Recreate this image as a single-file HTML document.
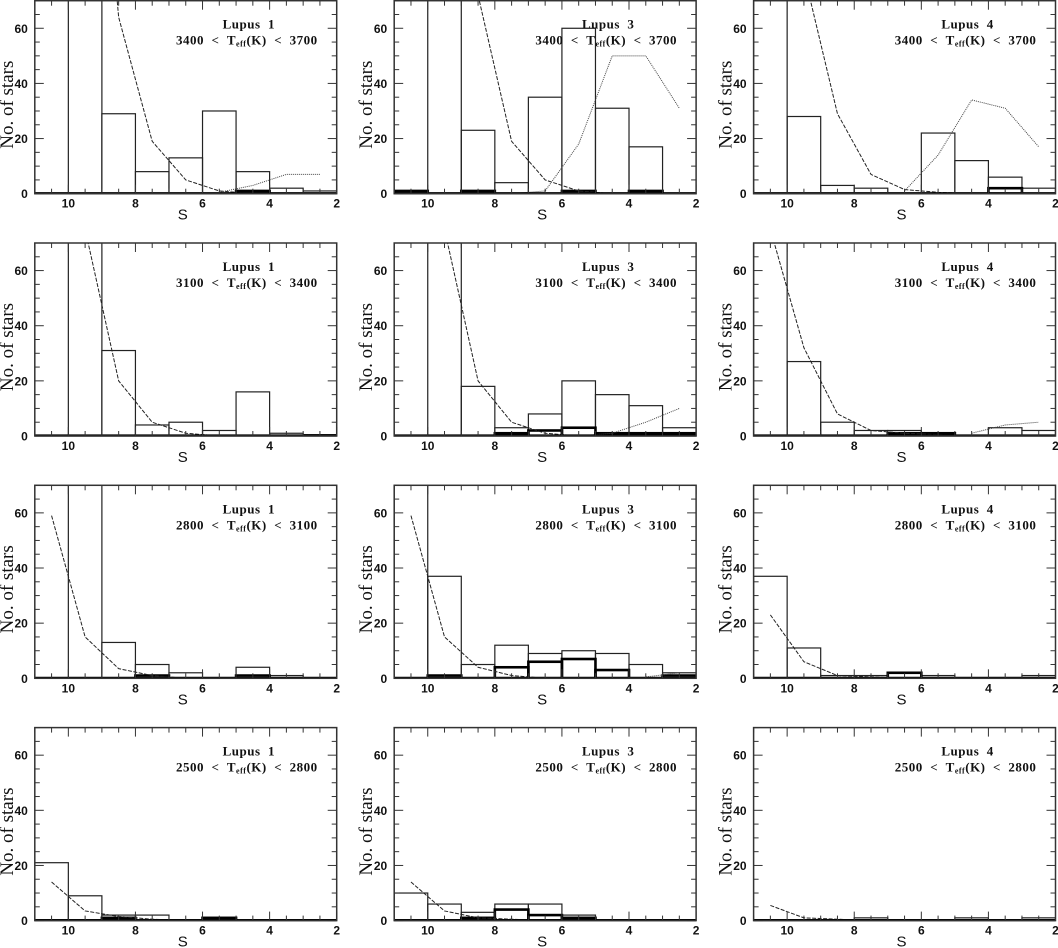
<!DOCTYPE html>
<html><head><meta charset="utf-8"><style>
html,body{margin:0;padding:0;background:#fff;}
svg{display:block;}
text{fill:#111;}
</style></head><body>
<svg id="fig" width="1058" height="948" viewBox="0 0 1058 948" xmlns="http://www.w3.org/2000/svg"></svg>
<script>
// Bins: S from 11..10, 10..9, ..., 3..2 ; line points at bin centres 10.5..2.5
const binEdges = [11,10,9,8,7,6,5,4,3,2];
const centres = [10.5,9.5,8.5,7.5,6.5,5.5,4.5,3.5,2.5];
const regions = ["Lupus 1","Lupus 3","Lupus 4"];
const tempRanges = [["3400","3700"],["3100","3400"],["2800","3100"],["2500","2800"]];
const xTicks = [10,8,6,4,2];
const yTicks = [0,20,40,60];
// thin histograms [row][col]
const thinCounts = [
 [[0,100,29,8,13,30,8,2,1],[1,100,23,4,35,60,31,17,0],[100,28,3,2,0,22,12,6,2]],
 [[0,100,31,4,5,2,16,1,0.5],[0,100,18,3,8,20,15,11,3],[100,27,5,2,2,1,0,3,2]],
 [[0,100,13,5,2,0,4,1,0],[100,37,5,12,9,10,9,5,2],[37,11,1,1,2,1,0,0,1]],
 [[21,9,2,2,0,1,0,0,0],[10,6,3,6,6,2,0,0,0],[0,0,0,1,0,0,1,0,1]]
];
// thick histograms
const thickCounts = [
 [[0,0,0,0,0,0,1,0,0],[1,0,1,0,0,1,0,1,0],[0,0,0,0,0,0,0,2,0]],
 [[0,0,0,0,0,0,0,0,0],[0,0,0,1,2,3,1,1,1],[0,0,0,0,1,1,0,0,0]],
 [[0,0,0,1,0,0,1,0,0],[0,1,0,4,6,7,3,0,1],[0,0,0,0,2,0,0,0,0]],
 [[0,0,1,0,0,1,0,0,0],[0,0,1,4,2,1,0,0,0],[0,0,0,0,0,0,0,0,0]]
];
// dashed model curve
const dashedModel = [
 [[400,200,64,19,5,1,0,0,0],[400,200,72,19,5,1,0,0,0],[300,80,29,7,1.5,0.5,0,0,0]],
 [[200,75,20,5,1,0,0,0,0],[200,75,20,5,1,0,0,0,0],[75,32,8,2,1,0.5,0,0,0]],
 [[59,15,3.5,1,0,0,0,0,0],[59,15,4,1,0,0,0,0,0],[23,6,1,0.5,0,0,0,0,0]],
 [[14,3.5,1.5,0.5,0,0,0,0,0],[14,3.5,1,0.5,0,0,0,0,0],[5.5,1,0.5,0,0,0,0,0,0]]
];
// dotted model curve (null = not drawn)
const dottedModel = [
 [[null,null,null,null,null,0.5,3,7,7],[null,null,null,0,1,18,50,50,31],[null,null,null,null,1,14,34,31,17]],
 [[null,null,null,null,null,null,null,0.3,0.5],[null,null,null,null,null,0,1,5,10],[null,null,null,null,null,null,1,4,5]],
 [[null,null,null,null,null,null,null,null,null],[null,null,null,null,null,null,null,0.5,2],[null,null,null,null,null,null,null,null,null]],
 [[null,null,null,null,null,null,null,null,null],[null,null,null,null,null,null,null,null,null],[null,null,null,null,null,null,null,null,null]]
];

const NS="http://www.w3.org/2000/svg";
const svg=document.getElementById('fig');
const colLeft=[34.8,394.2,753.6], rowTop=[0.7,243,485.3,727.6];
const W=301.9, H=193;
function mk(tag,attrs,parent){const e=document.createElementNS(NS,tag);for(const k in attrs)e.setAttribute(k,attrs[k]);(parent||svg).appendChild(e);return e;}

for(let r=0;r<4;r++){for(let c=0;c<3;c++){
  const L=colLeft[c], T=rowTop[r], B=T+H;
  const sx=v=>L+(11-v)/9*W;
  const sy=v=>B-v/70*H;
  const g=mk('g',{});
  
  
  const cid='clip'+r+'_'+c;
  const cp=mk('clipPath',{id:cid},g);mk('rect',{x:L,y:T,width:W,height:H},cp);
  const plot=mk('g',{'clip-path':'url(#'+cid+')'},g);
  thinCounts[r][c].forEach((v,i)=>{ if(v<=0)return;
    const x0=sx(binEdges[i]),x1=sx(binEdges[i+1]);
    const rc=mk('rect',{x:x0,y:sy(v),width:x1-x0,height:B-sy(v),fill:'none',stroke:'#222','stroke-width':1.2},plot);
    
    
  });
  thickCounts[r][c].forEach((v,i)=>{ if(v<=0)return;
    const x0=sx(binEdges[i]),x1=sx(binEdges[i+1]);
    const rc=mk('rect',{x:x0,y:sy(v),width:x1-x0,height:B-sy(v),fill:'none',stroke:'#000','stroke-width':2.6},plot);
    
    
  });
  let d='';dashedModel[r][c].forEach((v,i)=>{d+=(i?'L':'M')+sx(centres[i])+' '+sy(v)+' ';});
  const pd=mk('path',{d:d,fill:'none',stroke:'#222','stroke-width':1,'stroke-dasharray':'4 1.5'},plot);
  
  
  let dd='',st=true;dottedModel[r][c].forEach((v,i)=>{if(v===null){st=true;return;}dd+=(st?'M':'L')+sx(centres[i])+' '+sy(v)+' ';st=false;});
  if(dd){const pt=mk('path',{d:dd,fill:'none',stroke:'#444','stroke-width':1,'stroke-dasharray':'1 1'},plot);
    
    }
  mk('line',{x1:L,y1:B-0.5,x2:L+W,y2:B-0.5,stroke:'#000','stroke-width':2.2},g);
  mk('rect',{x:L,y:T,width:W,height:H,fill:'none',stroke:'#333','stroke-width':1.5},g);
  for(let v=11;v>=2;v-=0.5){const x=sx(v);const maj=(v%2===0);const len=maj?9:5;
    mk('line',{x1:x,y1:B,x2:x,y2:B-len,stroke:'#333','stroke-width':1},g);
    mk('line',{x1:x,y1:T,x2:x,y2:T+len,stroke:'#333','stroke-width':1},g);}
  for(let v=0;v<=70;v+=5){const y=sy(v);const maj=(v%20===0);const len=maj?9:5;
    mk('line',{x1:L,y1:y,x2:L+len,y2:y,stroke:'#333','stroke-width':1},g);
    mk('line',{x1:L+W,y1:y,x2:L+W-len,y2:y,stroke:'#333','stroke-width':1},g);}
  xTicks.forEach(v=>{const t=mk('text',{x:sx(v),y:B+14,'text-anchor':'middle','font-family':'Liberation Sans, sans-serif','font-size':12,'font-weight':'bold'},g);t.textContent=v;
    
    });
  yTicks.forEach(v=>{const t=mk('text',{x:L-7,y:sy(v)+4.5,'text-anchor':'end','font-family':'Liberation Sans, sans-serif','font-size':12,'font-weight':'bold'},g);t.textContent=v;
    
    });
  const xl=mk('text',{x:L+W/2-3,y:B+26,'text-anchor':'middle','font-family':'Liberation Sans, sans-serif','font-size':15},g);xl.textContent='S';
  
  
  const yl=mk('text',{x:0,y:0,'text-anchor':'middle','font-family':'Liberation Serif, serif','font-size':19,transform:'translate('+(L-22)+','+(T+104)+') rotate(-90)'},g);yl.textContent='No. of stars';
  
  
  const t1=mk('text',{x:L+214,y:T+28,'text-anchor':'middle','font-family':'Liberation Serif, serif','font-size':13,'font-weight':'bold','letter-spacing':'0.5'},g);t1.textContent=regions[c].replace(' ','\u00a0\u00a0');
  
  
  const t2=mk('text',{x:L+212,y:T+44,'text-anchor':'middle','font-family':'Liberation Serif, serif','font-size':13,'font-weight':'bold','letter-spacing':'0.5'},g);
  
  
  const a=mk('tspan',{},t2);a.textContent=tempRanges[r][0]+'\u00a0\u00a0<\u00a0\u00a0T';
  const b=mk('tspan',{'font-size':8,dy:2},t2);b.textContent='eff';
  const cc=mk('tspan',{dy:-2},t2);cc.textContent='(K)\u00a0\u00a0<\u00a0\u00a0'+tempRanges[r][1];
}}
</script>
</body></html>
